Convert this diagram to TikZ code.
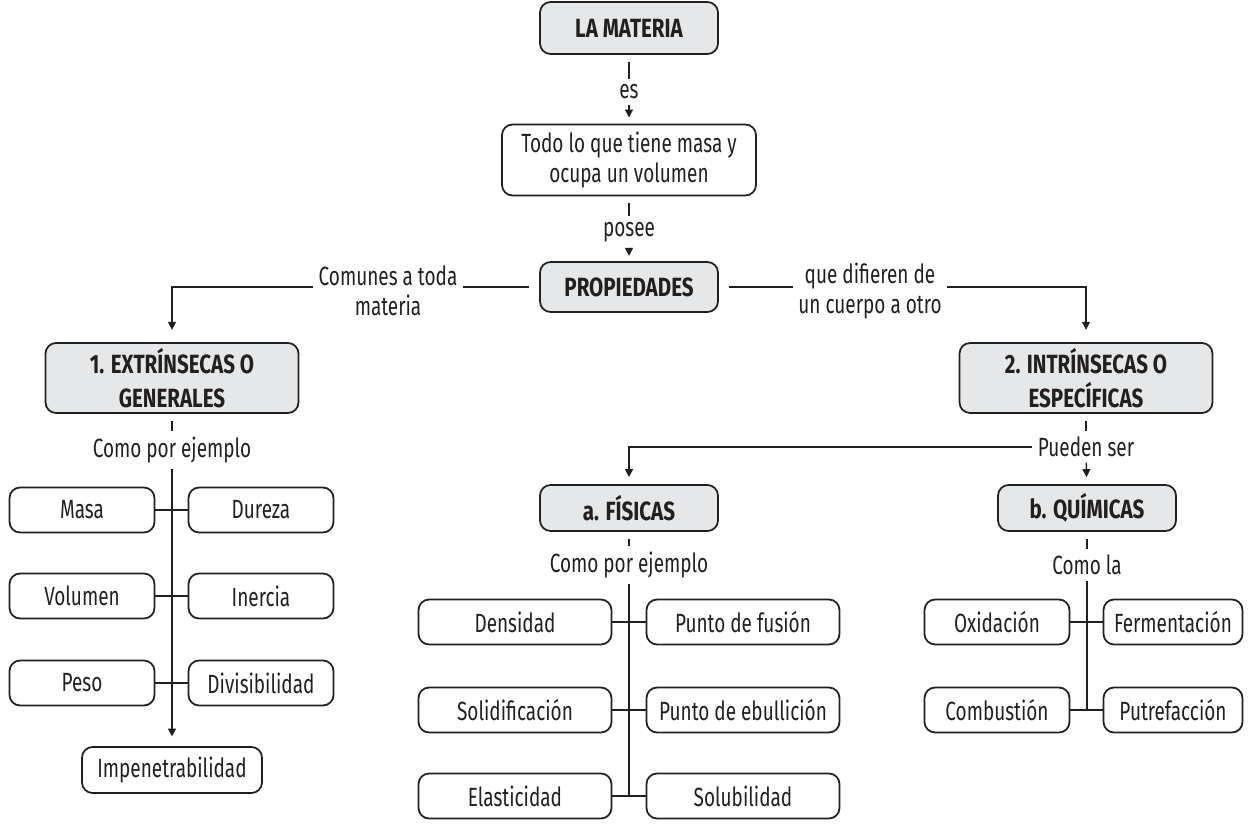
\documentclass[tikz,border=0pt]{standalone}
\usepackage{fontspec}
\setmainfont{Fira Sans}[FakeStretch=0.72, BoldFeatures={FakeStretch=0.78}]
\usetikzlibrary{arrows.meta}
\definecolor{boxgray}{RGB}{230,231,232}
\definecolor{ink}{RGB}{35,31,32}
\newcommand{\mapfont}{\fontsize{15}{17}\selectfont}

\tikzset{
    box/.style={draw=ink, line width=1pt, rounded corners=6pt, align=center, inner sep=2pt},
    title/.style={box, fill=boxgray, font=\fontsize{15}{19}\selectfont\bfseries},
    lbl/.style={inner sep=3pt, align=center},
    link/.style={draw=ink, line width=0.8pt},
    >={Triangle[length=4.5pt,width=4.5pt]}
}

\begin{document}
\begin{tikzpicture}[x=0.02cm, y=-0.02cm, font=\mapfont, text=ink]
        \useasboundingbox (0,0) rectangle (1250,828);

        % top of the map
        \node[title, minimum width=3.56cm, minimum height=1.04cm] (materia) at (629,28) {LA MATERIA};
        \node[box, minimum width=5.08cm, minimum height=1.42cm] (todo) at (629,160) {Todo lo que tiene masa y\\ocupa un volumen};
        \node[title, minimum width=3.56cm, minimum height=1cm] (prop) at (629,287) {PROPIEDADES};
        \node[lbl] (es) at (629,92) {es};
        \node[lbl] (posee) at (629,232) {posee};

        \draw[link, shorten <=4pt] (materia) -- (es);
        \draw[link, ->, shorten >=3.5pt] (es) -- (todo);
        \draw[link, shorten <=4pt] (todo) -- (posee);
        \draw[link, ->, shorten >=3pt] (posee) -- (prop);

        % two branches
        \node[title, minimum width=5.06cm, minimum height=1.4cm] (ext) at (172,378) {1. EXTRÍNSECAS O\\GENERALES};
        \node[title, minimum width=5.06cm, minimum height=1.4cm] (int) at (1086,378) {2. INTRÍNSECAS O\\ESPECÍFICAS};
        \node[lbl] (comunes) at (388,291) {Comunes a toda\\materia};
        \node[lbl] (difieren) at (870,291) {que difieren de\\un cuerpo a otro};

        \draw[link, shorten <=5.5pt] (prop.west) -- (prop.west -| comunes.east);
        \draw[link, ->, shorten >=7pt] (prop.west -| comunes.west) -- (prop.west -| ext.north) -- (ext.north);
        \draw[link, shorten <=5.5pt] (prop.east) -- (prop.east -| difieren.west);
        \draw[link, ->, shorten >=7pt] (prop.east -| difieren.east) -- (prop.east -| int.north) -- (int.north);

        % extrinsecas
        \node[lbl] (ejG) at (172,450) {Como por ejemplo};
        \node[box, minimum width=2.9cm, minimum height=0.9cm] (masa) at (82,510) {Masa};
        \node[box, minimum width=2.9cm, minimum height=0.9cm] (dureza) at (261,510) {Dureza};
        \node[box, minimum width=2.9cm, minimum height=0.9cm] (volumen) at (82,596) {Volumen};
        \node[box, minimum width=2.9cm, minimum height=0.9cm] (inercia) at (261,596) {Inercia};
        \node[box, minimum width=2.9cm, minimum height=0.9cm] (peso) at (82,683) {Peso};
        \node[box, minimum width=2.9cm, minimum height=0.9cm] (divis) at (261,683) {Divisibilidad};
        \node[box, minimum width=3.6cm, minimum height=0.92cm] (impen) at (172,770) {Impenetrabilidad};

        \draw[link, shorten <=4pt] (ext) -- (ejG);
        \draw[link, ->, shorten >=5.5pt] (ejG) -- (impen);

        % intrinsecas
        \node[lbl] (pueden) at (1086,447) {Pueden ser};
        \node[title, minimum width=3.56cm, minimum height=0.92cm] (fis) at (629,508) {a. FÍSICAS};
        \node[title, minimum width=3.56cm, minimum height=0.92cm] (quim) at (1087,508) {b. QUÍMICAS};

        \draw[link, shorten <=4pt] (int) -- (pueden);
        \draw[link, ->, shorten >=4pt] (pueden) -- (quim);
        \draw[link, ->, shorten >=4pt] (pueden.west) -- (pueden.west -| fis.north) -- (fis.north);

        % fisicas
        \node[lbl] (ejF) at (629,565) {Como por ejemplo};
        \node[box, minimum width=3.86cm, minimum height=0.9cm] (densidad) at (515,622) {Densidad};
        \node[box, minimum width=3.86cm, minimum height=0.9cm] (fusion) at (743,622) {Punto de fusión};
        \node[box, minimum width=3.86cm, minimum height=0.9cm] (solid) at (515,710) {Solidificación};
        \node[box, minimum width=3.86cm, minimum height=0.9cm] (ebull) at (743,710) {Punto de ebullición};
        \node[box, minimum width=3.86cm, minimum height=0.9cm] (elast) at (515,796) {Elasticidad};
        \node[box, minimum width=3.86cm, minimum height=0.9cm] (solub) at (743,796) {Solubilidad};

        \draw[link, shorten <=4pt] (fis) -- (ejF);
        \draw[link] (ejF) -- (ejF |- elast);

        % quimicas
        \node[lbl] (comola) at (1087,565) {Como la};
        \node[box, minimum width=2.9cm, minimum height=0.9cm] (oxid) at (997,622) {Oxidación};
        \node[box, minimum width=2.78cm, minimum height=0.9cm] (ferm) at (1173,622) {Fermentación};
        \node[box, minimum width=2.9cm, minimum height=0.9cm] (combust) at (997,710) {Combustión};
        \node[box, minimum width=2.78cm, minimum height=0.9cm] (putre) at (1173,710) {Putrefacción};

        \draw[link, shorten <=4pt] (quim) -- (comola);
        \draw[link] (comola) -- (comola |- combust);

        \foreach \l/\r in {masa/dureza, volumen/inercia, peso/divis, densidad/fusion, solid/ebull, elast/solub, oxid/ferm, combust/putre} {
            \draw[link] (\l) -- (\r);
        }
    \end{tikzpicture}
\end{document}
